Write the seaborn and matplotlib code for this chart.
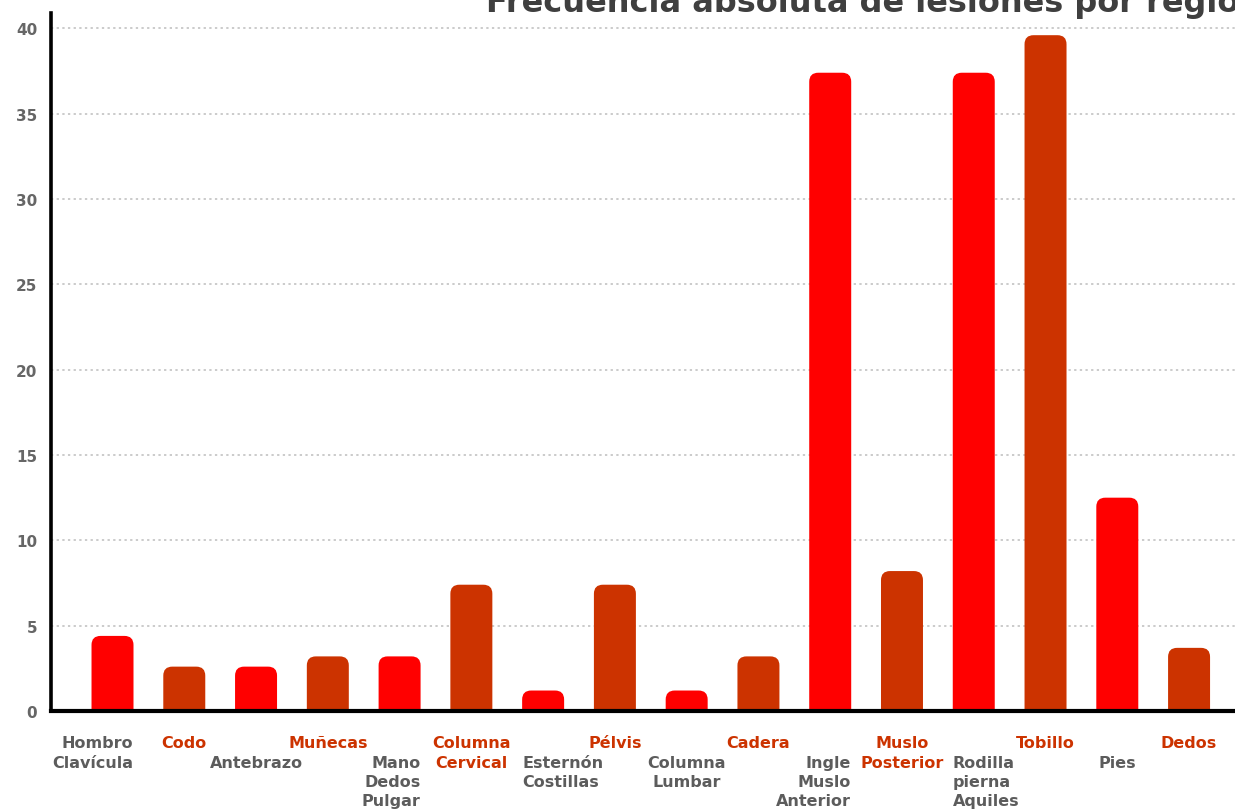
import matplotlib
matplotlib.use("Agg")
import matplotlib.pyplot as plt
import seaborn as sns
import pandas as pd
from matplotlib.patches import FancyBboxPatch

# Body regions (category labels, line breaks as printed under each bar)
regiones = [
    "Hombro\nClavícula", "Codo", "Antebrazo", "Muñecas", "Mano\nDedos\nPulgar",
    "Columna\nCervical", "Esternón\nCostillas", "Pélvis", "Columna\nLumbar", "Cadera",
    "Ingle\nMuslo\nAnterior", "Muslo\nPosterior", "Rodilla\npierna\nAquiles",
    "Tobillo", "Pies", "Dedos",
]
# Absolute frequency of injuries per region
lesiones = [4.4, 2.6, 2.6, 3.2, 3.2, 7.4, 1.2, 7.4, 1.2, 3.2,
            37.4, 8.2, 37.4, 39.6, 12.5, 3.7]
# Horizontal alignment of each category label relative to its bar
alineacion = ["right", "center", "center", "center", "right",
              "center", "left", "center", "center", "center",
              "right", "center", "left", "center", "center", "center"]
marcas_y = [0, 5, 10, 15, 20, 25, 30, 35, 40]
titulo = "Frecuencia absoluta de lesiones por región"

ROJO = "#FF0000"
TEJA = "#CC3300"
GRIS_TEXTO = "#5c5c5c"
colores = [ROJO if i % 2 == 0 else TEJA for i in range(len(regiones))]

sns.set_theme(style="white")
plt.rcParams["font.family"] = ["DejaVu Sans"]

W, H = 1235, 812
fig = plt.figure(figsize=(W / 100, H / 100), dpi=100)
fig.patch.set_facecolor("white")
ax = fig.add_axes([51 / W, 100 / H, 1 - 51 / W, 698 / H])

df = pd.DataFrame({"region": regiones, "lesiones": lesiones})
ancho = 0.585
sns.barplot(data=df, x="region", y="lesiones", hue="region", palette=colores,
            width=ancho, saturation=1, legend=False, ax=ax)

x_min, x_max = -0.857, 15.64
y_max = 40.9
ax.set_xlim(x_min, x_max)
ax.set_ylim(0, y_max)

# Replace the plain rectangles with bars that have rounded top corners
px_x = (1 - 51 / W) * W / (x_max - x_min)
px_y = 698 / y_max
radio = 9 / px_x
for p in list(ax.patches):
    x0, w, h = p.get_x(), p.get_width(), p.get_height()
    fc = p.get_facecolor()
    p.remove()
    barra = FancyBboxPatch((x0, -1.0), w, h + 1.0,
                           boxstyle=f"round,pad=0,rounding_size={radio}",
                           mutation_aspect=px_x / px_y,
                           fc=fc, ec="none", zorder=2)
    ax.add_patch(barra)

# Dotted horizontal grid
ax.set_yticks(marcas_y)
for y in marcas_y[1:]:
    ax.axhline(y, color="#bdbdbd", lw=1.1, ls=(0, (1.5, 2.2)), zorder=0)

for lado in ["top", "right"]:
    ax.spines[lado].set_visible(False)
ax.spines["left"].set_color("black")
ax.spines["left"].set_linewidth(2.6)
ax.spines["bottom"].set_color("black")
ax.spines["bottom"].set_linewidth(3)
ax.spines["left"].set_zorder(3)
ax.spines["bottom"].set_zorder(3)

ax.tick_params(axis="y", length=0, pad=10, labelsize=11, labelcolor="#666666")
for t in ax.get_yticklabels():
    t.set_fontweight("bold")
ax.tick_params(axis="x", length=0)
ax.set_xticks(range(len(regiones)))
ax.set_xticklabels([])
ax.set_xlabel("")
ax.set_ylabel("")

# Staggered category labels: the tile-coloured bars get labels on the first row,
# each text line placed on a fixed row pitch
paso = 19.3 * 72 / 100
inicio = 36.5 * 72 / 100
for i, (nombre, ha) in enumerate(zip(regiones, alineacion)):
    destacado = i % 2 == 1
    fila = 0 if (destacado or i == 0) else 1
    if ha == "right":
        xpos = i + ancho / 2
    elif ha == "left":
        xpos = i - ancho / 2
    else:
        xpos = i
    for k, linea in enumerate(nombre.split("\n")):
        ax.annotate(linea, xy=(xpos, 0), xycoords="data",
                    xytext=(0, -(inicio + (fila + k) * paso)),
                    textcoords="offset points",
                    ha=ha, va="baseline", fontsize=11.5, fontweight="bold",
                    color=TEJA if destacado else GRIS_TEXTO,
                    annotation_clip=False)

fig.text(486 / W, 1 - 12 / H, titulo, ha="left", va="baseline",
         fontsize=23, fontweight="bold", color="#3f3f3f")

fig.savefig("out.png", dpi=100)
